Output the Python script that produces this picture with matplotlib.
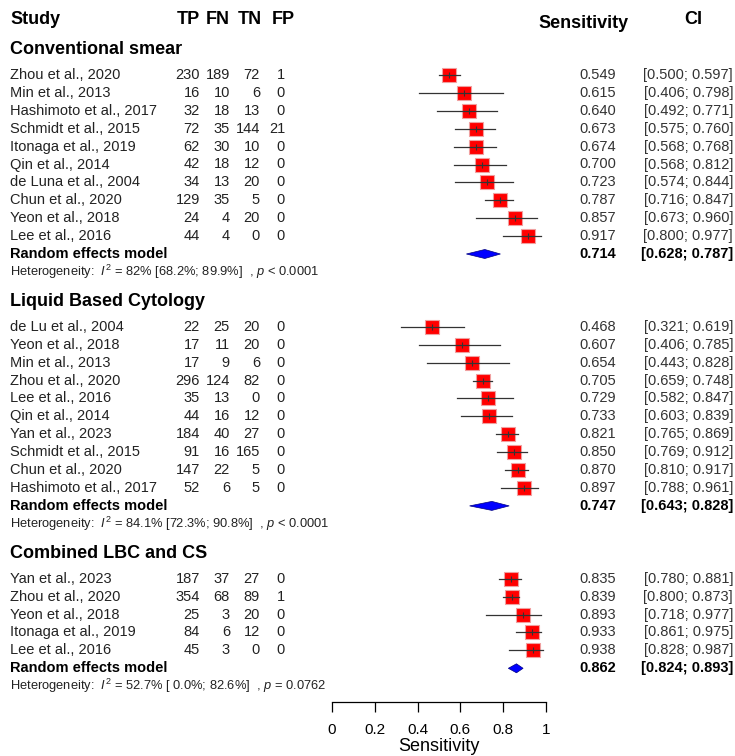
import matplotlib
matplotlib.use("Agg")
import matplotlib.pyplot as plt

plt.rcParams['font.family'] = ['Liberation Sans', 'DejaVu Sans']
plt.rcParams['mathtext.fontset'] = 'custom'
plt.rcParams['mathtext.rm'] = 'Liberation Sans'
plt.rcParams['mathtext.it'] = 'Liberation Sans:italic'

# --- data ---
cs_studies = ["Zhou et al., 2020", "Min et al., 2013", "Hashimoto et al., 2017",
              "Schmidt et al., 2015", "Itonaga et al., 2019", "Qin et al., 2014",
              "de Luna et al., 2004", "Chun et al., 2020", "Yeon et al., 2018",
              "Lee et al., 2016"]
cs_tp = [230, 16, 32, 72, 62, 42, 34, 129, 24, 44]
cs_fn = [189, 10, 18, 35, 30, 18, 13, 35, 4, 4]
cs_tn = [72, 6, 13, 144, 10, 12, 20, 5, 20, 0]
cs_fp = [1, 0, 0, 21, 0, 0, 0, 0, 0, 0]
cs_sens = [0.549, 0.615, 0.640, 0.673, 0.674, 0.700, 0.723, 0.787, 0.857, 0.917]
cs_lo = [0.500, 0.406, 0.492, 0.575, 0.568, 0.568, 0.574, 0.716, 0.673, 0.800]
cs_hi = [0.597, 0.798, 0.771, 0.760, 0.768, 0.812, 0.844, 0.847, 0.960, 0.977]
cs_pooled = (0.714, 0.628, 0.787)
cs_het = ("82%", "68.2%", "89.9%", "< 0.0001")

lbc_studies = ["de Lu et al., 2004", "Yeon et al., 2018", "Min et al., 2013",
               "Zhou et al., 2020", "Lee et al., 2016", "Qin et al., 2014",
               "Yan et al., 2023", "Schmidt et al., 2015", "Chun et al., 2020",
               "Hashimoto et al., 2017"]
lbc_tp = [22, 17, 17, 296, 35, 44, 184, 91, 147, 52]
lbc_fn = [25, 11, 9, 124, 13, 16, 40, 16, 22, 6]
lbc_tn = [20, 20, 6, 82, 0, 12, 27, 165, 5, 5]
lbc_fp = [0, 0, 0, 0, 0, 0, 0, 0, 0, 0]
lbc_sens = [0.468, 0.607, 0.654, 0.705, 0.729, 0.733, 0.821, 0.850, 0.870, 0.897]
lbc_lo = [0.321, 0.406, 0.443, 0.659, 0.582, 0.603, 0.765, 0.769, 0.810, 0.788]
lbc_hi = [0.619, 0.785, 0.828, 0.748, 0.847, 0.839, 0.869, 0.912, 0.917, 0.961]
lbc_pooled = (0.747, 0.643, 0.828)
lbc_het = ("84.1%", "72.3%", "90.8%", "< 0.0001")

cmb_studies = ["Yan et al., 2023", "Zhou et al., 2020", "Yeon et al., 2018",
               "Itonaga et al., 2019", "Lee et al., 2016"]
cmb_tp = [187, 354, 25, 84, 45]
cmb_fn = [37, 68, 3, 6, 3]
cmb_tn = [27, 89, 20, 12, 0]
cmb_fp = [0, 1, 0, 0, 0]
cmb_sens = [0.835, 0.839, 0.893, 0.933, 0.938]
cmb_lo = [0.780, 0.800, 0.718, 0.861, 0.828]
cmb_hi = [0.881, 0.873, 0.977, 0.975, 0.987]
cmb_pooled = (0.862, 0.824, 0.893)
cmb_het = ("52.7%", " 0.0%", "82.6%", "= 0.0762")

groups = [
    ("Conventional smear", cs_studies, cs_tp, cs_fn, cs_tn, cs_fp, cs_sens, cs_lo, cs_hi, cs_pooled, cs_het),
    ("Liquid Based Cytology", lbc_studies, lbc_tp, lbc_fn, lbc_tn, lbc_fp, lbc_sens, lbc_lo, lbc_hi, lbc_pooled, lbc_het),
    ("Combined LBC and CS", cmb_studies, cmb_tp, cmb_fn, cmb_tn, cmb_fp, cmb_sens, cmb_lo, cmb_hi, cmb_pooled, cmb_het),
]

W, H = 735, 756
fig = plt.figure(figsize=(W / 100, H / 100), dpi=100)
x0, x1 = 332, 546      # pixel position of 0 and 1 on the axis
axis_y = 702
ax = fig.add_axes([x0 / W, (H - axis_y) / H, (x1 - x0) / W, axis_y / H])
ax.set_xlim(0, 1)
ax.set_ylim(axis_y, 0)   # vertical units = pixels from top


def px(x):
    # pixel column -> data x
    return (x - x0) / (x1 - x0)


col_name, col_tp, col_fn, col_tn, col_fp = 10, 200, 230, 260, 285
col_sens, col_ci = 616, 733
fs, fs_head, fs_het = 10.5, 13, 9.3

kw = dict(va='center', clip_on=False)
ax.text(px(col_name), 20, "Study", fontsize=fs_head, fontweight='bold', ha='left', **kw)
for c, lab in zip([200, 230, 262, 295], ["TP", "FN", "TN", "FP"]):
    ax.text(px(c), 20, lab, fontsize=fs_head, fontweight='bold', ha='right', **kw)
ax.text(px(584), 23, "Sensitivity", fontsize=fs_head, fontweight='bold', ha='center', **kw)
ax.text(px(693), 20, "CI", fontsize=fs_head, fontweight='bold', ha='center', **kw)

step = 17.9
y = 50
for title, studies, tp, fn, tn, fp, sens, lo, hi, pooled, het in groups:
    ax.text(px(col_name), y, title, fontsize=fs_head, fontweight='bold', ha='left', **kw)
    y += 25
    for i in range(len(studies)):
        ax.text(px(col_name), y, studies[i], fontsize=fs, color='#222222', ha='left', **kw)
        for c, v in zip([col_tp, col_fn, col_tn, col_fp], [tp[i], fn[i], tn[i], fp[i]]):
            ax.text(px(c), y, str(v), fontsize=fs, color='#222222', ha='right', **kw)
        ax.text(px(col_sens), y, f"{sens[i]:.3f}", fontsize=fs, color='#333333', ha='right', **kw)
        ax.text(px(col_ci), y, f"[{lo[i]:.3f}; {hi[i]:.3f}]", fontsize=fs, color='#333333', ha='right', **kw)
        ax.plot(sens[i], y, marker='s', ms=9.5, mfc='#ff0000', mec='#f0a0a0', mew=0.8, zorder=2)
        ax.plot([lo[i], hi[i]], [y, y], color='#333333', lw=0.9, zorder=3)
        ax.plot(sens[i], y, marker='|', ms=4, color='#333333', mew=0.8, zorder=3)
        y += step
    est, plo, phi = pooled
    ax.fill([plo, est, phi, est], [y, y - 4.5, y, y + 4.5], color='#0000ff', ec='#000080', lw=0.5, zorder=3)
    ax.text(px(col_name), y, "Random effects model", fontsize=fs, fontweight='bold', ha='left', **kw)
    ax.text(px(col_sens), y, f"{est:.3f}", fontsize=fs, fontweight='bold', ha='right', **kw)
    ax.text(px(col_ci), y, f"[{plo:.3f}; {phi:.3f}]", fontsize=fs, fontweight='bold', ha='right', **kw)
    y += step
    i2, hlo, hhi, p = het
    ax.text(px(col_name), y,
            rf"Heterogeneity:  $I^2$ = {i2} [{hlo}; {hhi}]  , $p$ {p}",
            fontsize=fs_het, color='#222222', ha='left', **kw)
    y += 30

for s in ['top', 'right', 'left']:
    ax.spines[s].set_visible(False)
ax.spines['bottom'].set_linewidth(0.9)
ax.set_yticks([])
ax.set_xticks([0, 0.2, 0.4, 0.6, 0.8, 1])
ax.set_xticklabels(["0", "0.2", "0.4", "0.6", "0.8", "1"])
ax.tick_params(axis='x', length=7, width=0.9, labelsize=11, pad=8)
ax.set_xlabel("Sensitivity", fontsize=13, labelpad=1)
ax.patch.set_alpha(0)

fig.savefig("out.png", dpi=100)
